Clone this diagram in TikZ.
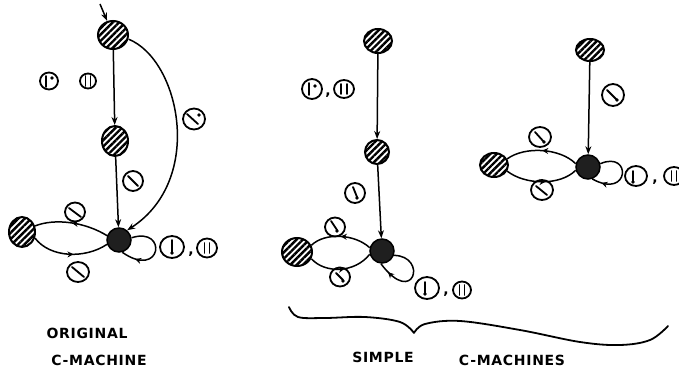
\documentclass[tikz,border=0pt]{standalone}
\usepackage{fontspec}
\setmainfont{DejaVu Sans}
\usetikzlibrary{arrows.meta,patterns.meta,decorations.markings,shapes.geometric}
\newcommand\gs[5]{\draw[gstr] ([shift={(#2,#3)}]#1.center) -- ([shift={(#4,#5)}]#1.center);}
\newcommand\gd[3]{\fill ([shift={(#2,#3)}]#1.center) circle[radius=1.8];}
\begin{document}
\begin{tikzpicture}[x=1pt,y=-1pt,
  hatch/.style={ellipse, draw, line width=2pt, inner sep=0pt,
    pattern={Lines[angle=45,distance=4.5pt,line width=2.4pt]}},
  blk/.style={circle, draw, line width=1.5pt, fill=black!88, inner sep=0pt, minimum size=24pt},
  glyph/.style={ellipse, draw, line width=1.8pt, inner sep=0pt},
  gstr/.style={line width=1.8pt, line cap=round},
  edge/.style={line width=1.5pt, -{Stealth[length=8pt,width=6pt]}},
  midarr/.style={line width=1.5pt, postaction={decorate},
    decoration={markings, mark=at position #1 with {\arrow{Stealth[length=6pt,width=6pt]}}}},
  lbl/.style={font=\fontsize{14}{14}\selectfont\bfseries\addfontfeature{LetterSpace=5}},
  commanode/.style={font=\fontsize{14}{14}\selectfont\bfseries, inner sep=0pt}
]
\useasboundingbox (0,0) rectangle (679,377);
\clip (0,0) rectangle (679,377);

% ---------- original machine ----------
\coordinate (s0) at (100,4);
\node[hatch, minimum width=30pt, minimum height=28pt] (A) at (113,35) {};
\node[hatch, minimum width=26pt, minimum height=30pt] (B) at (115,141) {};
\node[blk] (C) at (119,240) {};
\node[hatch, minimum width=26pt, minimum height=30pt] (D) at (22,232) {};

\draw[edge] (s0) -- (A);
\draw[edge] (A) -- (B);
\draw[edge] (B) -- (C);
\draw[edge] (A.-15) .. controls (180,60) and (205,180) .. (C.50);
\draw[midarr=0.5] (C.160) .. controls (85,222) and (55,218) .. (D.25);
\draw[midarr=0.55] (D.-25) .. controls (50,258) and (85,259) .. (C.200);
\draw[midarr=0.8] (C.10) .. controls (168,226) and (162,280) .. (C.-75);

\node[glyph, minimum width=18pt, minimum height=17pt] (l1) at (49,81) {};
\gs{l1}{-3}{-5}{-3}{6} \gd{l1}{3}{-3}
\node[glyph, minimum width=16pt, minimum height=15pt] (l2) at (88,81) {};
\gs{l2}{-2.5}{-5}{-2.5}{5} \gs{l2}{2.5}{-5}{2.5}{5}
\node[glyph, minimum width=22pt, minimum height=21pt] (l3) at (194,119) {};
\gs{l3}{-7}{-5}{4}{5} \gd{l3}{5}{-4}
\node[glyph, minimum width=20pt, minimum height=20pt] (l4) at (133,181) {};
\gs{l4}{-5}{-5}{5}{5}
\node[glyph, minimum width=20pt, minimum height=19pt] (l5) at (75,212) {};
\gs{l5}{-6}{-4}{6}{5}
\node[glyph, minimum width=22pt, minimum height=20pt] (l6) at (78,272) {};
\gs{l6}{-6}{-5}{6}{5}
\node[glyph, minimum width=24pt, minimum height=22pt] (l7) at (172,247) {};
\gs{l7}{0}{-7}{0}{5} \gd{l7}{0}{6}
\node[commanode] (c1) at (191,254) {,};
\node[glyph, minimum width=20pt, minimum height=19pt] (l8) at (207,248) {};
\gs{l8}{-2.5}{-5}{-2.5}{5} \gs{l8}{2.5}{-5}{2.5}{5}

% ---------- simple machine 1 ----------
\node[hatch, minimum width=28pt, minimum height=24pt] (E) at (378,41) {};
\node[hatch, minimum width=24pt, minimum height=24pt] (F) at (377,152) {};
\node[blk] (G) at (382,251) {};
\node[hatch, minimum width=30pt, minimum height=28pt] (H) at (297,252) {};

\draw[edge] (E) -- (F);
\draw[edge] (F) -- (G);
\draw[midarr=0.5] (G.165) .. controls (355,234) and (325,232) .. (H.25);
\draw[midarr=0.55] (H.-25) .. controls (325,274) and (355,273) .. (G.195);
\draw[midarr=0.85] (G.-20) .. controls (428,256) and (414,308) .. (G.-95);

\node[glyph, minimum width=20pt, minimum height=20pt] (m1) at (312,89) {};
\gs{m1}{-3}{-6}{-3}{6} \gd{m1}{3}{-3}
\node[commanode] (c2) at (328,95) {,};
\node[glyph, minimum width=20pt, minimum height=18pt] (m2) at (344,89) {};
\gs{m2}{-3}{-5}{-3}{5} \gs{m2}{3}{-5}{3}{5}
\node[glyph, minimum width=20pt, minimum height=20pt] (m3) at (355,193) {};
\gs{m3}{-2}{-6}{2}{4} \gd{m3}{2}{5}
\node[glyph, minimum width=20pt, minimum height=19pt] (m4) at (335,227) {};
\gs{m4}{-4}{-6}{2}{3} \gd{m4}{2}{4}
\node[glyph, minimum width=20pt, minimum height=19pt] (m5) at (340,277) {};
\gs{m5}{-4}{-4}{3}{3} \gd{m5}{3}{4}
\node[glyph, minimum width=24pt, minimum height=22pt] (m6) at (427,288) {};
\gs{m6}{-2}{-6}{-2}{5} \gd{m6}{-2}{6}
\node[commanode] (c3) at (446,294) {,};
\node[glyph, minimum width=18pt, minimum height=17pt] (m7) at (462,290) {};
\gs{m7}{-2.5}{-5}{-2.5}{5} \gs{m7}{2.5}{-5}{2.5}{5}

% ---------- simple machine 2 ----------
\node[hatch, minimum width=28pt, minimum height=22pt] (J) at (590,50) {};
\node[blk] (K) at (588,167) {};
\node[hatch, minimum width=28pt, minimum height=24pt] (L) at (494,165) {};

\draw[edge] (J) -- (K);
\draw[midarr=0.5] (K.165) .. controls (560,148) and (525,146) .. (L.25);
\draw[midarr=0.55] (L.-25) .. controls (525,185) and (560,186) .. (K.195);
\draw[midarr=0.85] (K.15) .. controls (632,150) and (630,200) .. (K.-70);

\node[glyph, minimum width=22pt, minimum height=22pt] (r1) at (613,95) {};
\gs{r1}{-6}{-5}{4}{5} \gd{r1}{4}{5}
\node[glyph, minimum width=22pt, minimum height=20pt] (r2) at (540,137) {};
\gs{r2}{-5}{-5}{4}{5} \gd{r2}{4}{5}
\node[glyph, minimum width=22pt, minimum height=20pt] (r3) at (542,190) {};
\gs{r3}{-6}{-4}{5}{5}
\node[glyph, minimum width=22pt, minimum height=20pt] (r4) at (636,176) {};
\gs{r4}{-3}{-5}{-3}{5} \gd{r4}{-3}{6}
\node[commanode] (c4) at (655,182) {,};
\node[glyph, minimum width=20pt, minimum height=18pt] (r5) at (674,176) {};
\gs{r5}{-2.5}{-5}{-2.5}{5} \gs{r5}{2.5}{-5}{2.5}{5}

% ---------- brace ----------
\draw[line width=1.8pt, line cap=round, line join=round]
  plot[smooth, tension=0.6] coordinates {(289,307) (298,317) (325,318) (365,317) (400,322) (414,333)}
  plot[smooth, tension=0.6] coordinates {(414,333) (425,324) (460,321) (520,330) (580,342) (620,345) (650,340) (668,326)};

% ---------- captions ----------
\node[lbl] (t1) at (87,333) {ORIGINAL};
\node[lbl] (t2) at (99,360) {C-MACHINE};
\node[lbl] (t3) at (383,357) {SIMPLE};
\node[lbl] (t4) at (512,360) {C-MACHINES};
\end{tikzpicture}
\end{document}
